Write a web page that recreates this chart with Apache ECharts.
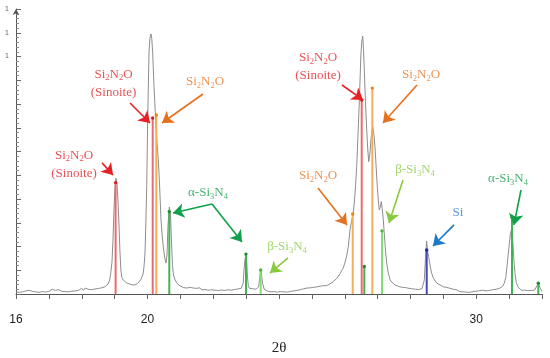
<!DOCTYPE html>
<html><head><meta charset="utf-8">
<script src="https://cdn.jsdelivr.net/npm/echarts@6/dist/echarts.min.js"></script>
<style>html,body{margin:0;padding:0;background:#fff}#c{width:550px;height:358px}</style>
</head><body><div id="c"></div>
<script>
// measured XRD profile: [2θ, intensity]
const profile = [
[16.00,0.8],[16.05,1.2],[16.10,0.7],[16.15,1.4],[16.20,0.9],[16.25,0.6],[16.30,1.3],[16.35,1.0],[16.40,1.6],[16.45,0.8],
[16.50,1.1],[16.55,1.8],[16.60,0.9],[16.65,1.2],[16.70,0.7],[16.75,1.5],[16.80,1.0],[16.85,1.3],[16.90,0.8],[16.95,1.6],
[17.00,1.1],[17.05,0.9],[17.10,2.0],[17.15,1.2],[17.20,1.5],[17.25,0.9],[17.30,1.8],[17.35,1.3],[17.40,1.1],[17.45,1.7],
[17.50,1.0],[17.55,1.4],[17.60,0.9],[17.65,1.6],[17.70,1.2],[17.75,1.0],[17.80,1.3],[17.85,0.9],[17.90,1.5],[17.95,1.1],
[18.00,2.4],[18.05,1.5],[18.10,2.5],[18.15,1.7],[18.20,2.0],[18.25,2.7],[18.30,1.8],[18.35,2.4],[18.40,2.1],[18.45,2.9],
[18.50,2.3],[18.55,2.8],[18.60,2.6],[18.65,3.2],[18.70,3.0],
[18.75,3.6],[18.80,4.2],[18.85,5.9],[18.88,8.5],[18.92,13.5],[18.95,22.7],[18.98,35.4],[19.01,44.6],[19.04,48.7],[19.07,46.7],
[19.10,39.6],[19.13,30.3],[19.16,18.5],[19.19,10.1],[19.22,7.0],[19.26,5.9],[19.30,5.2],[19.35,4.8],[19.40,4.5],[19.45,4.2],
[19.50,3.6],[19.53,3.9],[19.56,3.1],[19.60,3.8],[19.65,3.3],[19.70,4.4],[19.75,5.0],[19.80,6.2],[19.84,7.5],[19.872,8.8],
[19.90,12.5],[19.924,17.3],[19.95,30.0],[19.976,45.2],[20.006,73.3],[20.046,101.5],[20.075,108.0],[20.106,109.5],[20.13,107.5],[20.158,101.5],
[20.198,87.3],[20.249,73.3],[20.29,63.5],[20.33,56.4],[20.37,45.0],[20.411,31.2],[20.45,24.0],[20.481,19.9],[20.52,15.5],[20.563,13.0],
[20.593,16.4],[20.624,29.0],[20.663,36.6],[20.70,33.3],[20.73,22.0],[20.76,12.0],[20.79,8.0],[20.84,5.9],[20.90,4.5],[20.95,3.7],
[20.99,3.4],[21.05,3.0],[21.10,2.7],[21.15,3.1],[21.20,2.5],[21.25,2.2],[21.30,2.8],[21.35,2.1],[21.40,2.5],[21.45,1.8],
[21.50,2.4],[21.55,2.0],[21.60,2.6],[21.65,1.7],[21.70,2.2],[21.75,1.9],[21.80,2.5],[21.85,1.6],[21.90,2.1],[21.95,1.8],
[22.00,2.3],[22.05,1.6],[22.10,2.0],[22.15,1.5],[22.20,2.2],[22.25,1.7],[22.30,2.0],[22.35,1.5],[22.40,2.3],[22.45,1.8],
[22.50,2.1],[22.55,1.6],[22.60,2.2],[22.65,1.9],[22.70,2.5],[22.75,2.1],[22.80,2.7],[22.85,2.4],
[22.91,4.5],[22.935,10.1],[22.965,14.5],[22.996,16.8],[23.02,13.0],[23.04,7.5],[23.066,3.5],[23.10,2.4],[23.15,2.9],[23.20,2.2],
[23.25,2.6],[23.30,2.0],[23.35,2.3],[23.38,3.0],[23.41,6.5],[23.443,10.4],[23.47,8.0],[23.50,4.5],[23.55,2.0],[23.60,1.8],
[23.65,1.2],[23.70,1.6],[23.75,0.9],[23.80,1.4],[23.85,1.0],[23.90,1.6],[23.95,0.8],[24.00,1.3],[24.05,1.0],[24.10,1.5],
[24.15,0.9],[24.20,1.2],[24.25,0.8],[24.30,1.4],[24.35,1.1],[24.40,0.7],[24.45,1.3],[24.50,1.0],[24.55,1.5],[24.60,1.2],
[24.65,1.8],[24.70,1.4],[24.75,2.2],[24.80,1.8],[24.85,2.5],[24.90,2.0],[24.95,2.6],[25.00,2.3],[25.05,2.8],[25.10,2.4],
[25.15,3.0],[25.20,2.7],[25.25,3.3],[25.30,2.9],[25.35,3.5],[25.40,3.4],[25.45,3.5],[25.50,3.9],[25.55,4.3],[25.60,4.6],
[25.65,5.2],[25.70,5.8],[25.75,6.5],[25.80,7.3],[25.86,8.6],[25.91,10.0],[25.956,11.0],[26.00,13.0],[26.05,15.5],[26.108,19.9],
[26.16,27.0],[26.21,31.0],[26.26,34.1],[26.30,40.0],[26.33,46.0],[26.363,53.6],[26.40,66.0],[26.442,80.4],[26.47,92.0],[26.494,101.5],
[26.52,106.5],[26.546,108.6],[26.57,103.0],[26.595,94.3],[26.63,81.0],[26.668,69.1],[26.70,61.0],[26.729,55.7],[26.76,58.5],[26.789,63.6],
[26.82,68.0],[26.85,70.4],[26.885,67.5],[26.92,62.0],[26.955,53.5],[26.99,45.2],[27.02,39.5],[27.051,35.4],[27.08,36.5],[27.112,38.9],
[27.14,36.0],[27.173,31.2],[27.21,24.0],[27.246,17.3],[27.28,12.5],[27.325,8.8],[27.38,6.0],[27.43,5.0],[27.477,4.5],[27.53,3.8],
[27.58,3.6],[27.63,3.2],[27.681,3.1],[27.75,2.8],[27.80,2.3],[27.85,2.7],[27.90,2.0],[27.95,2.4],[28.00,1.8],[28.05,2.2],
[28.10,1.6],[28.15,2.0],[28.20,1.5],[28.25,1.9],[28.30,1.7],[28.35,2.2],[28.39,3.0],[28.42,5.9],[28.455,15.0],[28.49,22.3],
[28.52,18.0],[28.55,15.8],[28.575,15.2],[28.61,11.0],[28.645,8.7],[28.70,6.5],[28.745,5.9],[28.80,4.6],[28.85,4.1],[28.90,3.8],
[28.95,3.2],[29.00,3.0],[29.05,2.6],[29.10,2.8],[29.15,2.2],[29.20,2.4],[29.25,1.9],[29.30,2.0],[29.35,1.6],[29.40,1.8],
[29.45,1.4],[29.50,1.0],[29.55,1.6],[29.60,0.9],[29.65,1.3],[29.70,0.8],[29.75,1.2],[29.80,0.7],[29.85,1.5],[29.90,1.0],
[29.95,1.8],[30.00,1.2],[30.05,0.9],[30.10,1.4],[30.15,1.0],[30.20,1.6],[30.25,1.1],[30.30,1.3],[30.35,0.9],[30.40,1.5],
[30.45,1.2],[30.50,1.8],[30.55,1.4],[30.60,2.0],[30.65,1.7],[30.70,2.3],[30.75,2.6],[30.80,3.2],[30.85,4.5],[30.90,7.0],
[30.95,13.5],[31.00,20.5],[31.04,25.5],[31.075,27.2],[31.11,22.5],[31.14,15.5],[31.18,8.5],[31.22,4.8],[31.27,3.0],[31.32,2.2],
[31.37,1.6],[31.42,1.2],[31.47,1.6],[31.52,1.0],[31.57,1.4],[31.62,1.1],[31.67,1.5],[31.72,1.2],[31.77,1.6],[31.81,2.0],
[31.85,3.5],[31.88,4.6],[31.91,3.8],[31.95,2.4],[32.00,1.0]
];

// reference stick patterns: [2θ, intensity]
const sinoite    = [[19.03,46.9],[20.158,74.1],[26.516,81.7]];
const si2n2o     = [[20.268,75.4],[26.242,33.7],[26.838,86.7]];
const alphaSi3N4 = [[20.663,34.7],[22.996,16.8],[26.595,11.6],[31.087,32.2],[31.888,4.5]];
const betaSi3N4  = [[23.443,10.1],[27.133,26.6]];
const silicon    = [[28.493,18.5]];

const xLabelValues = [16, 20, 30];
const yLabelValues = [100, 110, 120];

// annotations (data coords)
const labelTexts = ['Si2N2O\n(Sinoite)','Si2N2O\n(Sinoite)','Si2N2O','α-Si3N4','β-Si3N4','Si2N2O','Si2N2O\n(Sinoite)','Si2N2O','β-Si3N4','Si','α-Si3N4'];
const labelX     = [17.764, 18.966, 21.749, 21.840, 24.243, 25.186, 25.186, 28.319, 28.137, 29.445, 30.966];
const labelY     = [54.7, 88.6, 89.3, 42.5, 19.8, 49.7, 95.6, 92.2, 52.2, 34.1, 48.4];
const labelPhase = ['red','red','orange','green','lime','orange','red','orange','lime','blue','green'];

const arrowFrom = [[18.616,55.2],[19.468,80.4],[21.688,84.2],[21.962,37.9],[21.962,37.9],[24.274,15.2],[25.186,44.6],[25.916,88.0],[28.198,88.0],[27.772,48.0],[29.323,29.1],[31.361,43.8]];
const arrowTo   = [[18.951,50.1],[20.076,72.0],[20.441,72.0],[20.776,34.1],[22.875,21.9],[23.726,8.8],[26.068,29.1],[26.555,81.7],[27.163,72.0],[27.346,29.9],[28.684,20.2],[31.148,29.1]];
const arrowPhase = ['red','red','orange','green','green','lime','orange','red','orange','lime','blue','green'];

const textColor = {red:'#e3262b', orange:'#e6782a', green:'#17a14b', lime:'#8ccd4c', blue:'#2b80cf'};
const arrowColor = {red:'#e82026', orange:'#e5701e', green:'#10a04c', lime:'#8ac840', blue:'#1c78c8'};

function toRich(s){
  return s.split('\n').map(line => line.replace(/([A-Za-z)]+)(\d)?/g,(m,a,d)=> '{t|'+a+'}'+(d?'{s|'+d+'}':''))
    .replace(/\{t\|([^}]*)\}/g,'{t|$1}')).map(l=>{
      // keep non-letter prefixes like "α-" inside t
      return l.replace(/^([^{]+)/,'{t|$1}');
    }).join('\n');
}
function richFor(c){
  return {
    t:{fontFamily:'Liberation Serif', fontSize:13, color:c, lineHeight:18},
    s:{fontFamily:'Liberation Serif', fontSize:8.5, color:c, lineHeight:18, verticalAlign:'bottom', padding:[0,0,1,0]}
  };
}

function stickSeries(data, color, dot){
  return {
    type:'custom', data, encode:{x:0,y:1}, z:4, silent:true,
    renderItem(params, api){
      const x = api.value(0), y = api.value(1);
      const p0 = api.coord([x,0]), p1 = api.coord([x,y]);
      return {type:'group', children:[
        {type:'line', shape:{x1:p0[0],y1:p0[1],x2:p1[0],y2:p1[1]}, style:{stroke:color, lineWidth:2}},
        {type:'circle', shape:{cx:p1[0], cy:p1[1], r:1.7}, style:{fill:dot}}
      ]};
    }
  };
}

const chart = echarts.init(document.getElementById('c'), null, {renderer:'canvas'});
chart.setOption({
  animation:false,
  backgroundColor:'#ffffff',
  grid:{left:16, right:8, top:9, bottom:64, containLabel:false, outerBoundsMode:'none'},
  xAxis:{
    type:'value', min:16, max:32, interval:1,
    axisLine:{show:true, lineStyle:{color:'#555', width:1}},
    axisTick:{show:true, length:5, lineStyle:{color:'#666'}},
    axisLabel:{formatter:v => xLabelValues.includes(v) ? String(v) : '', fontFamily:'Liberation Sans', fontSize:12, color:'#222', margin:20},
    splitLine:{show:false},
    name:'2θ', nameLocation:'middle', nameGap:47,
    nameTextStyle:{fontFamily:'Liberation Serif', fontSize:15, color:'#222'}
  },
  yAxis:{
    type:'value', min:0, max:120, interval:10,
    axisLine:{show:true, lineStyle:{color:'#555', width:1}, symbol:['none','arrow'], symbolSize:[5,6]},
    axisTick:{show:true, inside:true, length:5, lineStyle:{color:'#666'}},
    minorTick:{show:true, splitNumber:5, length:3, lineStyle:{color:'#888'}},
    axisLabel:{formatter:v => yLabelValues.includes(v) ? '1' : '', fontSize:7, color:'#666', margin:7},
    splitLine:{show:false}
  },
  series:[
    {type:'line', data:profile, showSymbol:false, symbol:'none', z:2,
     lineStyle:{color:'#8d8d8d', width:1}, silent:true,
     markLine:{silent:true, animation:false, symbol:['none','arrow'], symbolSize:11, label:{show:false},
       data: arrowFrom.map((f,i)=>[
         {coord:f, lineStyle:{color:arrowColor[arrowPhase[i]], width:1.6, type:'solid'}, itemStyle:{color:arrowColor[arrowPhase[i]]}, symbol:'none'},
         {coord:arrowTo[i], lineStyle:{color:arrowColor[arrowPhase[i]], width:1.6, type:'solid'}, itemStyle:{color:arrowColor[arrowPhase[i]]}, symbol:'arrow'}
       ])}
    },
    stickSeries(sinoite, '#ec6b68', '#cc1f28'),
    stickSeries(si2n2o, '#f4ad5c', '#e5851e'),
    stickSeries(alphaSi3N4, '#42b352', '#1f8a30'),
    stickSeries(betaSi3N4, '#82de72', '#4fb43f'),
    stickSeries(silicon, '#4545bd', '#26269a'),
    {type:'scatter', symbolSize:0, z:6, silent:true,
     data: labelTexts.map((t,i)=>({
       value:[labelX[i], labelY[i]],
       label:{show:true, position:'inside', formatter: toRich(t), rich: richFor(textColor[labelPhase[i]]), align:'center', verticalAlign:'middle'}
     }))
    }
  ]
});
</script></body></html>
